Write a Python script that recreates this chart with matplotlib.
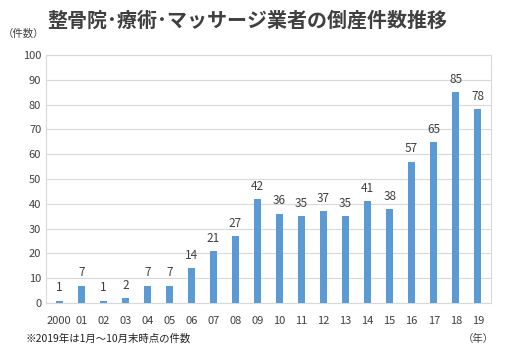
import numpy as np
import matplotlib.pyplot as plt

plt.rcParams['font.family'] = ['Noto Sans CJK JP', 'DejaVu Sans']

years = ['2000', '01', '02', '03', '04', '05', '06', '07', '08', '09',
         '10', '11', '12', '13', '14', '15', '16', '17', '18', '19']
counts = [1, 7, 1, 2, 7, 7, 14, 21, 27, 42, 36, 35, 37, 35, 41, 38, 57, 65, 85, 78]

fig = plt.figure(figsize=(5.12, 3.54), dpi=100)
ax = fig.add_axes([0.090, 0.144, 0.869, 0.701])

x = np.arange(len(years))
ax.bar(x, counts, width=0.3, color='#5B9BD5', zorder=3)
for xi, v in zip(x, counts):
    ax.text(xi, v + 2.5, str(v), ha='center', va='bottom', fontsize=8.5, color='#404040')

ax.set_ylim(0, 100)
ax.set_xlim(-0.6, len(years) - 0.4)
ax.set_yticks(np.arange(0, 101, 10))
ax.set_xticks(x)
ax.set_xticklabels(years)
ax.tick_params(axis='both', length=0, labelsize=8, colors='#404040')
ax.tick_params(axis='x', pad=9)
ax.grid(axis='y', color='#D9D9D9', linewidth=0.8, zorder=0)
for s in ax.spines.values():
    s.set_color('#D9D9D9')
    s.set_linewidth(0.8)

fig.text(0.483, 0.943, '整骨院･療術･マッサージ業者の倒産件数推移', ha='center', va='center',
         fontsize=14.4, fontweight='bold', color='#404040')
fig.text(0.005, 0.905, '（件数）', ha='left', va='center', fontsize=7.5, color='#404040')
fig.text(0.05, 0.042, '※2019年は1月～10月末時点の件数', ha='left', va='center',
         fontsize=7.5, color='#202020')
fig.text(0.965, 0.042, '（年）', ha='right', va='center', fontsize=7.5, color='#404040')

plt.savefig('out.png', dpi=100)
